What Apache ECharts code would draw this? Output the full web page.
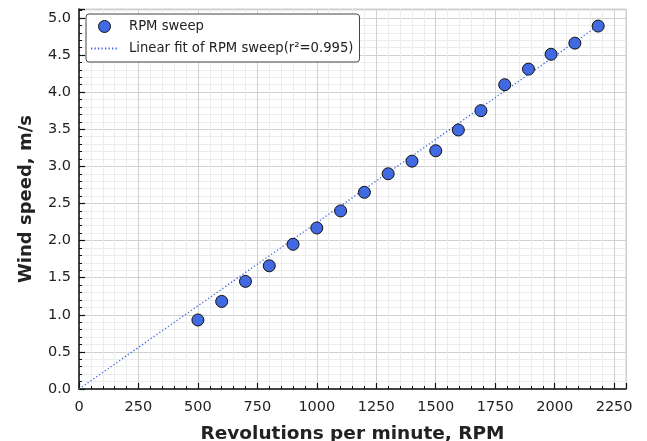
<!DOCTYPE html>
<html>
<head>
<meta charset="utf-8">
<script src="https://cdn.jsdelivr.net/npm/echarts@6/dist/echarts.min.js"></script>
<style>html,body{margin:0;padding:0;background:#fff}#c{width:647px;height:441px}</style>
</head>
<body>
<div id="c"></div>
<script>
// Data
var rpm = [500, 600, 700, 800, 900, 1000, 1100, 1200, 1300, 1400, 1500, 1595, 1690, 1790, 1890, 1985, 2085, 2183];
var windSpeed = [0.93, 1.18, 1.45, 1.66, 1.95, 2.17, 2.40, 2.65, 2.90, 3.07, 3.21, 3.49, 3.75, 4.10, 4.31, 4.51, 4.66, 4.89];
// Fitted line end points as drawn in the reference
var fitX = [0, 2185];
var fitY = [0.0, 4.90];
var xTicks = [0, 250, 500, 750, 1000, 1250, 1500, 1750, 2000, 2250];
var yTicks = [0.0, 0.5, 1.0, 1.5, 2.0, 2.5, 3.0, 3.5, 4.0, 4.5, 5.0];
var seriesName = 'RPM sweep';
var fitName = 'Linear fit of RPM sweep(r\u00B2=0.995)';

var scatterData = rpm.map(function (x, i) { return [x, windSpeed[i]]; });
var fitData = fitX.map(function (x, i) { return [x, fitY[i]]; });

var chart = echarts.init(document.getElementById('c'), null, {renderer: 'canvas'});
var font = 'DejaVu Sans';
chart.setOption({
  animation: false,
  backgroundColor: '#ffffff',
  textStyle: {fontFamily: font},
  grid: {left: 79, right: 21, top: 9, bottom: 52, containLabel: false, outerBoundsMode: 'none',
    show: true, borderColor: '#cccccc', borderWidth: 1, backgroundColor: 'transparent'},
  legend: {
    orient: 'vertical', left: 86, top: 14,
    backgroundColor: '#ffffff', borderColor: '#444444', borderWidth: 1, borderRadius: 3,
    padding: [6, 6, 7, 4], itemGap: 9, itemWidth: 27, itemHeight: 12,
    textStyle: {fontFamily: font, fontSize: 13.2, color: '#222222', padding: [0, 0, 0, 6]},
    data: [
      {name: seriesName, icon: 'circle', itemStyle: {borderWidth: 1, borderColor: '#111111'}},
      {name: fitName, itemStyle: {opacity: 0}}
    ]
  },
  xAxis: {
    type: 'value', min: 0, max: 2300, interval: 250,
    name: 'Revolutions per minute, RPM', nameLocation: 'middle', nameGap: 36,
    nameTextStyle: {fontFamily: font, fontSize: 18.5, fontWeight: 'bold', color: '#222222'},
    axisLine: {show: true, onZero: false, lineStyle: {color: '#111111', width: 1.5}},
    axisTick: {show: true, inside: true, length: 6, lineStyle: {color: '#111111', width: 1.2}},
    minorTick: {show: true, splitNumber: 5, length: 3, lineStyle: {color: '#111111', width: 1}},
    axisLabel: {fontFamily: font, fontSize: 14.5, color: '#222222', margin: 11, showMaxLabel: false,
      formatter: function (v) { return xTicks.indexOf(v) >= 0 ? String(v) : ''; }},
    splitLine: {show: true, lineStyle: {color: '#d0d0d0', width: 1}},
    minorSplitLine: {show: true, lineStyle: {color: '#ececec', width: 1}}
  },
  yAxis: {
    type: 'value', min: 0, max: 5.12, interval: 0.5,
    name: 'Wind speed, m/s', nameLocation: 'middle', nameGap: 44,
    nameTextStyle: {fontFamily: font, fontSize: 18, fontWeight: 'bold', color: '#222222'},
    axisLine: {show: true, onZero: false, lineStyle: {color: '#111111', width: 1.5}},
    axisTick: {show: true, inside: true, length: 6, lineStyle: {color: '#111111', width: 1.2}},
    minorTick: {show: true, splitNumber: 5, length: 3, lineStyle: {color: '#111111', width: 1}},
    axisLabel: {fontFamily: font, fontSize: 14.5, color: '#222222', margin: 8, showMaxLabel: false,
      padding: [5, 0, 0, 0],
      formatter: function (v) {
        for (var i = 0; i < yTicks.length; i++) { if (Math.abs(yTicks[i] - v) < 1e-6) return yTicks[i].toFixed(1); }
        return '';
      }},
    splitLine: {show: true, lineStyle: {color: '#d0d0d0', width: 1}},
    minorSplitLine: {show: true, lineStyle: {color: '#ececec', width: 1}}
  },
  series: [
    {
      name: seriesName, type: 'scatter', data: scatterData, symbol: 'circle', symbolSize: 12, z: 3,
      itemStyle: {color: '#4169e1', borderColor: '#111111', borderWidth: 1, opacity: 1}
    },
    {
      name: fitName, type: 'line', data: fitData, symbol: 'none', showSymbol: false, z: 2,
      lineStyle: {color: '#4169e1', width: 1.3, type: [1.3, 2.2]},
      itemStyle: {color: '#4169e1'}
    }
  ]
});
</script>
</body>
</html>
